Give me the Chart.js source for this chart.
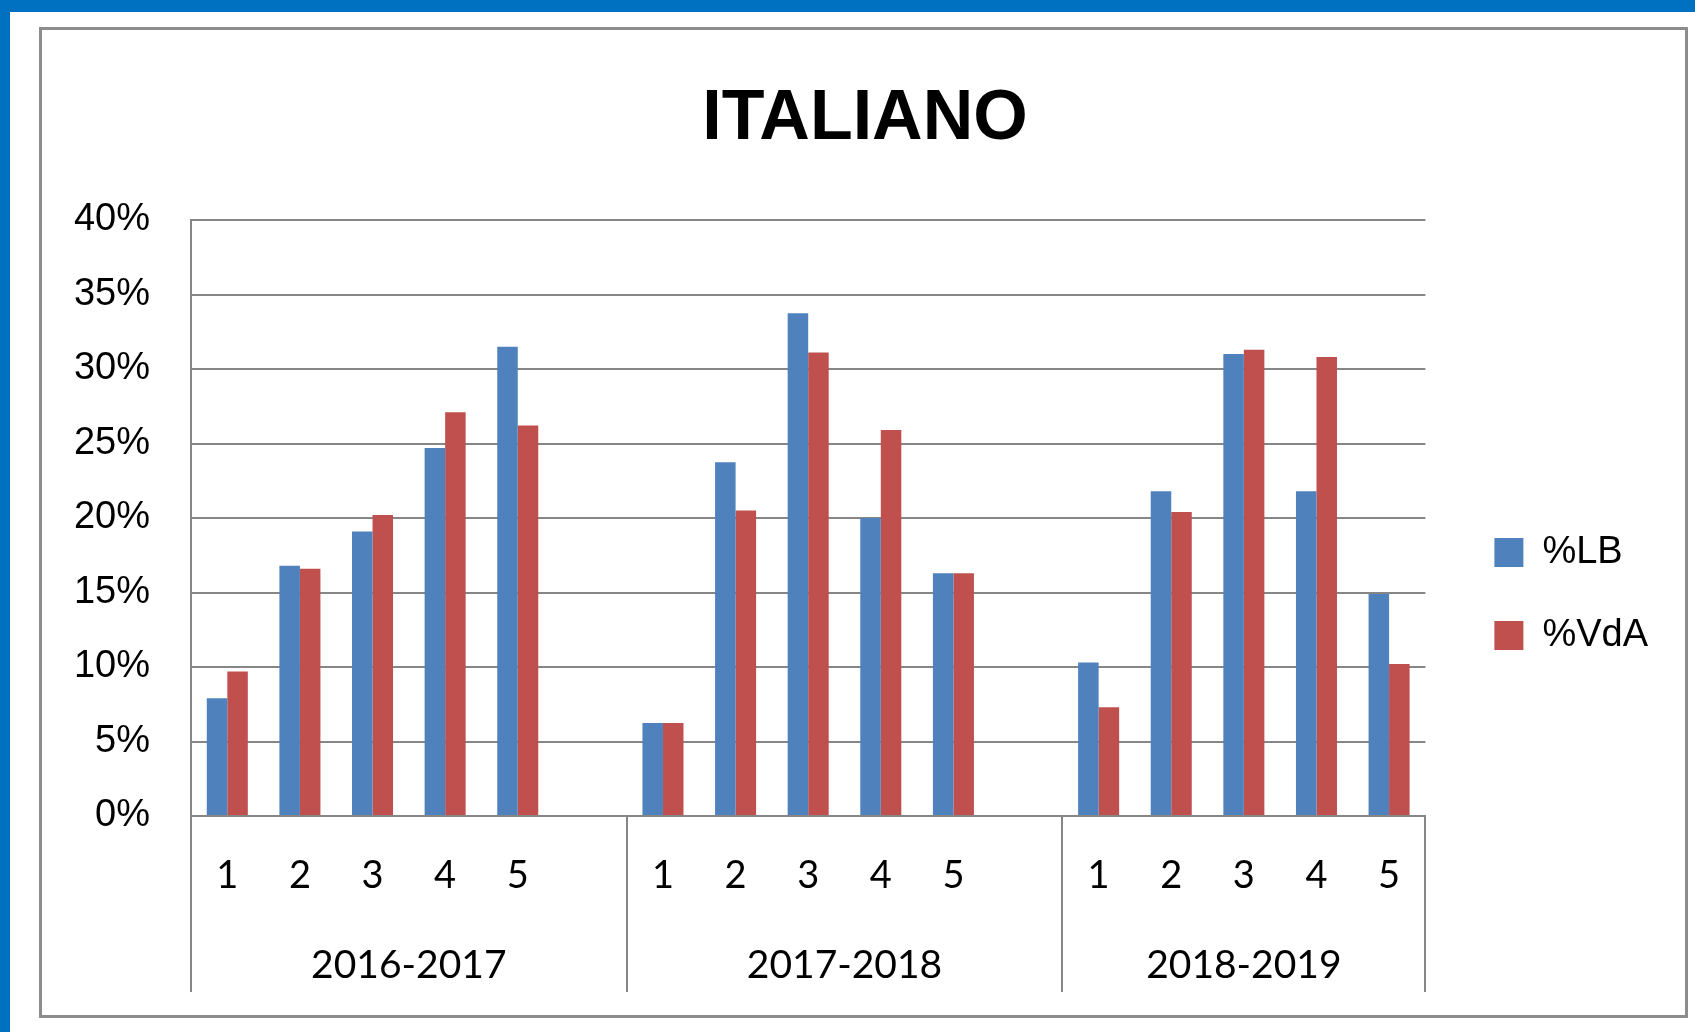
<!DOCTYPE html>
<html>
<head>
<meta charset="utf-8">
<title>ITALIANO</title>
<script src="https://cdn.jsdelivr.net/npm/chart.js@4.4.1/dist/chart.umd.min.js"></script>
<style>
  html, body { margin: 0; padding: 0; background: #fff; overflow: hidden; }
  #page { position: relative; width: 1695px; height: 1032px; }
  .edge-top  { position: absolute; left: 0; top: 0; width: 1695px; height: 12px; background: #0070c0; }
  .edge-left { position: absolute; left: 0; top: 0; width: 10px; height: 1032px; background: #0070c0; }
  .frame { position: absolute; left: 39px; top: 27px; width: 1649px; height: 991px;
           box-sizing: border-box; border: 3px solid #8c8c8c; }
  #chart { position: absolute; left: 0; top: 0; }
</style>
</head>
<body>
<div id="page">
  <div class="edge-top"></div>
  <div class="edge-left"></div>
  <div class="frame"></div>
  <canvas id="chart" width="1695" height="1032"></canvas>
</div>
<script>
  // --- data ---
  var years  = ['2016-2017', '2017-2018', '2018-2019'];
  var levels = ['1', '2', '3', '4', '5'];
  var lbValues  = [7.9, 16.8, 19.1, 24.7, 31.5,   6.25, 23.75, 33.75, 20.0, 16.3,   10.3, 21.8, 31.0, 21.8, 14.9];
  var vdaValues = [9.7, 16.6, 20.2, 27.1, 26.2,   6.25, 20.5, 31.1, 25.9, 16.3,     7.3, 20.4, 31.3, 30.8, 10.2];
  var yTicks = [0, 5, 10, 15, 20, 25, 30, 35, 40];

  var BLUE = '#4f81bd', RED = '#c0504d', GRID = '#868686';

  // build the flat category axis: 5 levels per year, an empty slot between years
  var categories = [], lbData = [], vdaData = [], groups = [];
  years.forEach(function (year, g) {
    var start = categories.length;
    levels.forEach(function (lvl, i) {
      categories.push(lvl);
      lbData.push(lbValues[g * levels.length + i]);
      vdaData.push(vdaValues[g * levels.length + i]);
    });
    if (g < years.length - 1) { categories.push(''); lbData.push(null); vdaData.push(null); }
    groups.push({ name: year, start: start, end: categories.length });
  });
  var groupStarts = groups.map(function (g) { return g.start; });

  /** Second row of the category axis: the school years under each block. */
  var groupLabels = {
    id: 'groupLabels',
    afterDraw: function (chart) {
      var x = chart.scales.x, ctx = chart.ctx;
      ctx.save();
      ctx.font = '39px Lato';
      ctx.fillStyle = '#000';
      ctx.textAlign = 'center';
      ctx.textBaseline = 'middle';
      groups.forEach(function (g) {
        var cx = (x.getPixelForValue(g.start) + x.getPixelForValue(g.end - 1)) / 2;
        ctx.fillText(g.name, cx, x.top + 149);
      });
      ctx.restore();
    }
  };

  function draw() {
    Chart.defaults.font.family = "'Liberation Sans', Arial, sans-serif";
    Chart.defaults.color = '#000';

    new Chart(document.getElementById('chart'), {
      type: 'bar',
      data: {
        labels: categories,
        datasets: [
          { label: '%LB',  data: lbData,  backgroundColor: BLUE, borderWidth: 0,
            categoryPercentage: 0.565, barPercentage: 1 },
          { label: '%VdA', data: vdaData, backgroundColor: RED,  borderWidth: 0,
            categoryPercentage: 0.565, barPercentage: 1 }
        ]
      },
      options: {
        responsive: false,
        animation: false,
        layout: { padding: { top: 0, bottom: 0, left: 72, right: 37 } },
        plugins: {
          tooltip: { enabled: false },
          title: {
            display: true, text: 'ITALIANO', color: '#000',
            font: { size: 70, weight: 'bold', lineHeight: 1.2 },
            padding: { top: 78, bottom: 58 }
          },
          legend: {
            position: 'right',
            title: { display: true, text: '', font: { size: 10 }, padding: { top: 144, bottom: 0 } },
            labels: { boxWidth: 29, boxHeight: 29, padding: 45, color: '#000', font: { size: 38 } }
          }
        },
        scales: {
          x: {
            offset: true,
            grid: {
              offset: true, drawOnChartArea: false, drawTicks: true, tickLength: 176, lineWidth: 2,
              color: function (c) {
                return (c.index === undefined || groupStarts.indexOf(c.index) >= 0) ? GRID : 'rgba(0,0,0,0)';
              }
            },
            border: { display: true, color: GRID, width: 2 },
            ticks: { autoSkip: false, maxRotation: 0, padding: -139, color: '#000',
                     font: { family: 'Lato', size: 38 } },
            afterFit: function (s) { s.height = 216; }
          },
          y: {
            min: 0, max: 40,
            afterBuildTicks: function (s) { s.ticks = yTicks.map(function (v) { return { value: v }; }); },
            grid: { color: GRID, lineWidth: 2, drawTicks: false },
            border: { display: true, color: GRID, width: 2 },
            ticks: { padding: 41, color: '#000', font: { size: 38 },
                     callback: function (v) { return v + '%'; } },
            afterFit: function (s) { s.width = 119; }
          },
          // spacer between plot and legend
          gap: {
            type: 'linear', position: 'right', display: true,
            grid: { display: false }, border: { display: false }, ticks: { display: false },
            afterFit: function (s) { s.width = 24; }
          }
        }
      },
      plugins: [groupLabels]
    });
  }

  Promise.all([
    document.fonts.load('38px Lato'),
    document.fonts.load('bold 70px "Liberation Sans"'),
    document.fonts.load('38px "Liberation Sans"')
  ]).then(draw, draw);
</script>
</body>
</html>
